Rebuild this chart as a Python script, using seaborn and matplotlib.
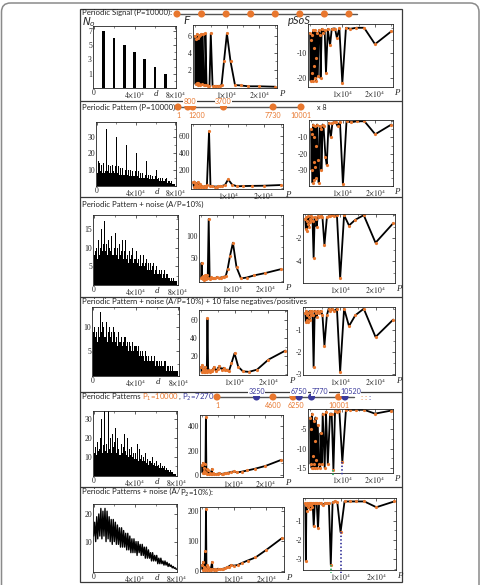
import numpy as np
import pandas as pd
import matplotlib
matplotlib.use("Agg")
import matplotlib.pyplot as plt
import seaborn as sns
from matplotlib.patches import FancyBboxPatch, Rectangle
from matplotlib.ticker import AutoMinorLocator

sns.set_theme(style="white")
plt.rcParams['font.family'] = ['Lato', 'DejaVu Sans']
plt.rcParams['mathtext.fontset'] = 'stix'
plt.rcParams['axes.unicode_minus'] = False

ORANGE = '#e8772e'
BLUE = '#3a3a9c'
GREEN = '#2fb36a'

# ---------------- data ----------------
# row 1 : periodic signal
sig_events = [1, 10001, 20001, 30001, 40001, 50001, 60001, 70001]
sig_d = [10000, 20000, 30000, 40000, 50000, 60000, 70000]
sig_N = [7, 6, 5, 4, 3, 2, 1]

# row 2 : periodic pattern timeline
pat_events = [1, 800, 1200, 3700, 7730, 10001]
pat_above = [800, 3700]
pat_repeat = "x 8"

# row 5 : two periodic patterns
P1 = 10000
P2 = 7270
p1_events = [1, 4600, 6250, 10001]
p2_events = [3250, 6750, 7770, 10520]

# histogram bins (distance d)
d_edges = np.arange(0, 80001, 1000)

hist2 = [8, 15, 14, 9, 13, 8, 9, 14, 8, 9,
         35, 9, 13, 8, 12, 8, 13, 9, 8, 12,
         30, 8, 12, 7, 11, 7, 11, 7, 7, 10,
         25, 7, 10, 6, 10, 6, 9, 6, 6, 9,
         20, 6, 9, 5, 8, 5, 8, 5, 5, 7,
         15, 5, 7, 4, 7, 4, 6, 4, 4, 6,
         10, 4, 5, 3, 5, 3, 5, 3, 3, 4,
         5, 2, 3, 2, 3, 2, 3, 1, 1, 1]
hist3 = [8, 9, 10, 7, 12, 8, 10, 15, 9, 11,
         17, 9, 11, 8, 12, 10, 9, 13, 8, 10,
         14, 8, 10, 7, 11, 8, 9, 12, 7, 9,
         12, 7, 8, 6, 9, 7, 8, 10, 6, 7,
         9, 6, 7, 5, 8, 5, 6, 8, 5, 6,
         7, 4, 6, 4, 6, 4, 5, 6, 3, 4,
         5, 3, 4, 3, 4, 2, 3, 4, 2, 3,
         3, 2, 2, 1, 2, 1, 2, 1, 1, 1]
hist4 = [9, 10, 8, 9, 7, 10, 8, 13, 9, 11,
         10, 8, 11, 7, 9, 10, 8, 9, 7, 10,
         9, 7, 8, 6, 9, 7, 8, 6, 7, 8,
         8, 6, 7, 5, 7, 6, 5, 7, 5, 6,
         6, 5, 6, 4, 5, 4, 5, 4, 3, 5,
         4, 3, 4, 3, 4, 3, 3, 4, 2, 3,
         3, 2, 3, 2, 3, 2, 2, 3, 1, 2,
         2, 1, 2, 1, 2, 1, 1, 1, 1, 1]
hist5 = [12, 15, 11, 18, 13, 14, 20, 30, 12, 16,
         36, 13, 17, 12, 36, 14, 20, 12, 22, 15,
         18, 25, 12, 20, 14, 11, 17, 12, 15, 22,
         13, 11, 20, 10, 14, 11, 15, 10, 12, 9,
         12, 9, 17, 8, 14, 9, 11, 8, 10, 8,
         12, 7, 9, 6, 8, 7, 10, 6, 7, 5,
         8, 5, 6, 4, 7, 4, 5, 4, 5, 3,
         4, 3, 3, 2, 3, 2, 2, 1, 1, 1]
line6_d = np.arange(0, 80001, 1000)
line6 = [12, 17, 10, 19, 11, 20, 12, 22, 11, 21,
         12, 22, 10, 21, 11, 19, 10, 18, 9, 18,
         10, 17, 9, 16, 9, 15, 8, 15, 8, 14,
         8, 13, 7, 13, 7, 12, 6, 11, 6, 11,
         6, 10, 5, 10, 6, 9, 5, 9, 5, 8,
         4, 8, 4, 7, 4, 6, 3, 6, 3, 5,
         3, 5, 2, 4, 2, 4, 2, 3, 1.5, 3,
         1.5, 2.5, 1, 2, 1, 1.5, 0.5, 1, 0.3, 0.5, 0]

# candidate periods P and scores
P_grid = [150, 300, 450, 600, 750, 900, 1050, 1200, 1350, 1500,
          1650, 1800, 2000, 2200, 2500, 2800, 3250, 3333, 3700, 4000,
          4600, 5000, 5556, 6250, 6750, 7270, 7770, 8333, 9091, 10000,
          11111, 12500, 14286, 16667, 20000, 25000]

F1 = [6.0, 0.3, 5.6, 0.5, 6.2, 0.2, 5.8, 0.4, 6.0, 0.3,
      6.1, 0.2, 6.2, 0.3, 6.2, 0.2, 0.2, 6.3, 0.2, 0.1,
      0.1, 6.3, 0.1, 0.1, 0.1, 0.1, 0.1, 0.2, 3.0, 6.3,
      3.0, 0.2, 0.15, 0.05, 0.05, 0.0]
S1 = [-2, -21, -5, -18, -3, -21, -1, -15, -8, -20,
      -1, -12, -21, -2, -19, -1, -3, -20, -0.5, -2,
      -1, -18, -0.5, -7, -0.5, -0.3, -0.3, -4, -0.2, -22,
      0, -0.4, 0, 0, -6.5, -1.4]
F2 = [60, 10, 70, 20, 55, 5, 40, 15, 60, 10,
      30, 8, 45, 10, 20, 8, 10, 15, 12, 30,
      650, 20, 15, 12, 12, 15, 15, 20, 30, 95,
      35, 15, 18, 20, 22, 30]
S2 = [-5, -30, -8, -38, -2, -25, -10, -36, -3, -28,
      -15, -35, -2, -24, -38, -3, -5, -30, -2, -3,
      -22, -27, -1, -10, -1, -0.5, -0.5, -3, -0.5, -39,
      0, -0.6, 0, 0, -8, -2]
F3 = [5, 40, 8, 3, 10, 4, 6, 2, 9, 12,
      5, 3, 12, 5, 138, 4, 5, 8, 5, 6,
      5, 8, 6, 7, 8, 9, 10, 25, 55, 85,
      30, 5, 7, 12, 17, 26]
S3 = [-0.3, -1.2, -0.2, -1.4, -0.5, -0.8, -0.1, -1.0, -0.3, -0.6,
      -0.1, -0.4, -0.2, -0.5, -3.7, -0.2, -0.3, -1.0, -0.1, -0.2,
      -0.1, -0.2, -2.6, -0.2, -0.1, -0.05, 0, -0.1, 0, -5.5,
      0, -0.9, -0.4, 0, -2.4, -0.7]
F4 = [8, 2, 10, 3, 6, 2, 5, 2, 8, 3,
      4, 2, 62, 3, 5, 2, 3, 4, 6, 8,
      3, 6, 9, 5, 7, 4, 5, 3, 12, 23,
      8, 3, 2.5, 5, 16, 26]
S4 = [-0.2, -0.6, -0.1, -0.5, -0.3, -0.6, -0.2, -0.4, -0.1, -0.5,
      -0.2, -0.3, -0.1, -0.3, -2.7, -0.1, -0.2, -0.4, -0.1, -0.2,
      -0.1, -0.3, -1.7, -0.3, 0, -0.1, 0, -0.1, 0, -2.9,
      0, -0.8, -0.3, 0, -1.3, -0.5]
F5 = [80, 20, 100, 30, 60, 15, 90, 25, 470, 20,
      50, 10, 40, 10, 20, 8, 50, 10, 15, 8,
      10, 12, 15, 10, 12, 15, 18, 20, 25, 30,
      22, 28, 38, 52, 75, 125]
S5 = [-2, -14, -5, -15, -1, -12, -15, -3, -14, -8,
      -15, -2, -13, -15, -4, -14, -15, -6, -14, -1,
      -15, -0.5, -14, -1, -1, -15.5, -0.3, -0.5, -0.2, -13.5,
      0, 0, 0, 0, -1.0, -0.2]
F6 = [20, 5, 30, 8, 15, 5, 65, 10, 205, 8,
      20, 5, 12, 4, 8, 5, 30, 8, 5, 6,
      5, 8, 6, 7, 8, 10, 12, 15, 20, 18,
      20, 27, 35, 45, 70, 110]
S6 = [-0.1, -3.1, -0.2, -0.5, -0.1, -0.3, -0.1, -0.2, -0.4, -0.1,
      -0.2, -0.1, -0.3, -0.1, -1.3, -0.1, -0.1, -0.1, -1.4, -0.1,
      -0.1, -0.2, -0.1, -0.1, -0.1, -3.3, -0.05, 0, -0.05, -1.6,
      0, 0, 0, 0, -0.3, 0]

headers = ["Periodic Signal (P=10000):",
           "Periodic Pattern (P=10000):",
           "Periodic Pattern + noise (A/P=10%)",
           "Periodic Pattern + noise (A/P=10%) + 10 false negatives/positives",
           None,
           None]

# ---------------- layout ----------------
W, H = 481, 585
fig = plt.figure(figsize=(W / 100, H / 100), dpi=100)


def px_axes(x0, y0, x1, y1):
    return fig.add_axes([x0 / W, 1 - y1 / H, (x1 - x0) / W, (y1 - y0) / H])


overlay = fig.add_axes([0, 0, 1, 1])
overlay.set_xlim(0, W)
overlay.set_ylim(H, 0)
overlay.axis('off')
overlay.add_patch(FancyBboxPatch((1.5, 3), 477.5, 620, boxstyle='round,pad=0,rounding_size=9',
                                 fc='none', ec='#8a8a8a', lw=1.1, clip_on=False))
overlay.add_patch(Rectangle((80, 9), 322, 573, fc='none', ec='#3a3a3a', lw=0.9))
overlay.hlines([101, 197, 297, 392, 487], 80, 402, color='#3a3a3a', lw=0.9)

boxes = [
    dict(h=(93, 26, 176, 88), f=(193, 25, 277, 88), s=(308, 24, 393, 87)),
    dict(h=(96, 122, 176, 186), f=(191, 124, 283, 189), s=(309, 120, 393, 186)),
    dict(h=(93, 215, 178, 285), f=(199, 215, 283, 282), s=(303, 214, 395, 283)),
    dict(h=(92, 307, 179, 376), f=(199, 310, 287, 375), s=(303, 307, 395, 375)),
    dict(h=(93, 411, 177, 476), f=(200, 415, 283, 477), s=(308, 409, 393, 473)),
    dict(h=(93, 504, 177, 572), f=(200, 507, 284, 572), s=(303, 498, 396, 570)),
]
hist_ylim = [(-1.0, 7.7), (0, 39), (0, 18.7), (0, 14), (0, 34), (-1, 23.6)]
hist_yt = [[1, 3, 5, 7], [10, 20, 30], [5, 10, 15], [5, 10], [10, 20, 30], [10, 20]]
F_vals = [F1, F2, F3, F4, F5, F6]
S_vals = [S1, S2, S3, S4, S5, S6]
F_ylim = [(-0.15, 7.3), (-16, 735), (-3, 147), (-1, 71), (-15, 490), (-3, 212)]
F_yt = [[2, 4, 6], [200, 400, 600], [50, 100], [20, 40, 60], [0, 200, 400], [0, 100, 200]]
S_ylim = [(-23.5, 1.5), (-40, 0.8), (-5.9, 0.1), (-3.05, 0.08), (-16.3, 0.2), (-3.57, 0.18)]
S_yt = [[-20, -10], [-30, -20, -10], [-4, -2], [-3, -2, -1], [-15, -10, -5], [-3, -2, -1]]
header_y = [12, 107, 204, 301, 397, 492]

TFS = 5.5  # tick font size
SERIF = 'Liberation Serif'


def style_axes(ax):
    for sp in ax.spines.values():
        sp.set_linewidth(0.6)
        sp.set_color('#222222')
    ax.tick_params(direction='in', length=2.2, width=0.5, top=True, right=True,
                   labelsize=TFS, pad=0.8, colors='#222222')
    ax.tick_params(which='minor', direction='in', length=1.2, width=0.4, top=True, right=True)
    ax.xaxis.set_minor_locator(AutoMinorLocator(2))
    ax.yaxis.set_minor_locator(AutoMinorLocator(2))
    ax.set_xlabel('')
    ax.set_ylabel('')
    ax.grid(False)
    for lab in ax.get_xticklabels() + ax.get_yticklabels():
        lab.set_fontfamily(SERIF)


def axis_letter(ax, s, x=1.0, dx=1.5):
    ax.annotate(s, xy=(x, 0), xycoords='axes fraction', xytext=(dx, -4.6),
                textcoords='offset points', ha='left', va='center',
                fontsize=6.4, style='italic', fontfamily=SERIF)


hist_data = [None, hist2, hist3, hist4, hist5, None]
d_centers = d_edges[:-1] + 500

for r in range(6):
    b = boxes[r]
    # ---- histogram of distances ----
    ax = px_axes(*b['h'])
    if r == 0:
        df = pd.DataFrame({'d': sig_d, 'N': sig_N})
        sns.barplot(data=df, x='d', y='N', native_scale=True, color='black',
                    saturation=1, width=0.28, ax=ax, linewidth=0)
        lo = hist_ylim[r][0]
        for p in ax.patches:   # fill bars down to the bottom of the frame
            top = p.get_y() + p.get_height()
            p.set_y(lo)
            p.set_height(top - lo)
    elif r == 5:
        df = pd.DataFrame({'d': line6_d, 'N': line6})
        sns.lineplot(data=df, x='d', y='N', color='black', lw=1.0, ax=ax)
    else:
        df = pd.DataFrame({'d': d_centers, 'N': hist_data[r]})
        sns.histplot(data=df, x='d', weights='N', binwidth=1000, binrange=(0, 80000),
                     color='black', alpha=1, edgecolor='white', linewidth=0.0, ax=ax)
    ax.set_xlim(-600, 80600)
    ax.set_ylim(*hist_ylim[r])
    ax.set_xticks([0, 40000, 80000])
    ax.set_xticklabels(['0', r'$4{\times}10^4$', r'$8{\times}10^4$'])
    ax.set_yticks(hist_yt[r])
    ax.set_yticklabels([str(v) for v in hist_yt[r]])
    style_axes(ax)
    axis_letter(ax, 'd', x=0.73, dx=0)

    # ---- F(P) ----
    ax = px_axes(*b['f'])
    df = pd.DataFrame({'P': P_grid, 'F': F_vals[r]})
    sns.lineplot(data=df, x='P', y='F', color='black', lw=1.3, ax=ax, marker='o',
                 markersize=2.3, markerfacecolor=ORANGE, markeredgecolor='none')
    ax.set_xlim(-500, 25500)
    ax.set_ylim(*F_ylim[r])
    ax.set_xticks([10000, 20000])
    ax.set_xticklabels([r'$1{\times}10^4$', r'$2{\times}10^4$'])
    ax.set_yticks(F_yt[r])
    ax.set_yticklabels([str(v) for v in F_yt[r]])
    style_axes(ax)
    axis_letter(ax, 'P')

    # ---- pSoS(P) ----
    ax = px_axes(*b['s'])
    df = pd.DataFrame({'P': P_grid, 'S': S_vals[r]})
    sns.lineplot(data=df, x='P', y='S', color='black', lw=1.3, ax=ax, marker='o',
                 markersize=2.3, markerfacecolor=ORANGE, markeredgecolor='none')
    if r >= 4:
        lo = S_ylim[r][0]
        for per, col in [(P2, GREEN), (P1, BLUE)]:
            v = S_vals[r][P_grid.index(per)]
            ax.plot([per, per], [v, lo - 0.04 * (S_ylim[r][1] - lo)], color=col, lw=1.3,
                    ls=(0, (0.8, 1.2)), clip_on=False, zorder=5)
    ax.set_xlim(-500, 25500)
    ax.set_ylim(*S_ylim[r])
    ax.set_xticks([10000, 20000])
    ax.set_xticklabels([r'$1{\times}10^4$', r'$2{\times}10^4$'])
    ax.set_yticks(S_yt[r])
    ax.set_yticklabels([str(v) for v in S_yt[r]])
    style_axes(ax)
    axis_letter(ax, 'P', dx=0.8)

# axis names (top row)
overlay.text(82, 22, r'$N_o$', fontsize=7.5, math_fontfamily='dejavusans', va='center', ha='left')
overlay.text(183, 21, 'F', fontsize=8.5, style='italic', va='center', ha='left')
overlay.text(288, 21, 'pSoS', fontsize=8, style='italic', va='center', ha='left')

# headers
HFS = 5.6
for r, t in enumerate(headers):
    if t is not None:
        overlay.text(82, header_y[r], t, fontsize=HFS, va='center', ha='left', color='#222222')

renderer = fig.canvas.get_renderer()


def parts_text(x, y, parts):
    for s, c in parts:
        t = overlay.text(x, y, s, fontsize=HFS, va='baseline', ha='left', color=c,
                         math_fontfamily='dejavusans')
        bb = t.get_window_extent(renderer=renderer)
        x += bb.width


parts_text(82, header_y[4] + 2.2, [("Periodic Patterns\u2009", '#222222'),
                                   (r"P$_1$=10000", ORANGE), (",\u2009", '#222222'),
                                   (r"P$_2$=7270", BLUE), (":", '#222222')])
parts_text(82, header_y[5] + 2.2, [("Periodic Patterns + noise (A/", '#222222'),
                                   (r"P$_2$=10%):", '#222222')])

# ---------------- timelines ----------------
LFS = 5.1
label_shift = {1200: 3, 800: 1.5, 6250: 2, 7770: 6, 10520: 4}   # points, to avoid overlaps


def timeline(box, lo, hi, line_ext):
    ax = px_axes(*box)
    ax.axis('off')
    ax.set_xlim(lo, hi)
    ax.set_ylim(-1, 1)
    ax.plot(line_ext, [0, 0], color='#555555', lw=1.0, clip_on=False, zorder=1)
    return ax


def dots(ax, events, color):
    sns.scatterplot(x=events, y=[0] * len(events), color=color, s=26, edgecolor='none',
                    ax=ax, clip_on=False, zorder=3, legend=False)


def labels(ax, events, color, above):
    for e in events:
        dx = label_shift.get(e, 0)
        if above:
            ax.annotate(str(e), (e, 0), xytext=(dx, 3.7), textcoords='offset points', ha='center',
                        va='center', fontsize=LFS, color=color,
                        bbox=dict(fc='white', ec='none', pad=0.3), zorder=6)
        else:
            ax.annotate(str(e), (e, 0), xytext=(dx, -6.2), textcoords='offset points', ha='center',
                        va='center', fontsize=LFS, color=color)


span1 = sig_events[-1] - sig_events[0]
t1 = timeline((177, 9, 349, 19), sig_events[0], sig_events[-1],
              [sig_events[0] - 0.012 * span1, sig_events[-1] + 0.045 * span1])
dots(t1, sig_events, ORANGE)

t2 = timeline((178, 102, 301, 112), pat_events[0], pat_events[-1],
              [pat_events[0], pat_events[-1]])
dots(t2, pat_events, ORANGE)
labels(t2, [e for e in pat_events if e not in pat_above], ORANGE, False)
labels(t2, pat_above, ORANGE, True)
overlay.text(317, 107, pat_repeat, fontsize=LFS, va='center', ha='left', color='#222222')

t5 = timeline((217, 392, 345, 402), p1_events[0], p2_events[-1],
              [p1_events[0], p2_events[-1] * 1.07])
dots(t5, p1_events, ORANGE)
dots(t5, p2_events, BLUE)
labels(t5, p1_events, ORANGE, False)
labels(t5, p2_events, BLUE, True)
overlay.text(361, 397, ':', fontsize=6, va='center', ha='left', color=ORANGE, fontweight='bold')
overlay.text(365, 397, ':', fontsize=6, va='center', ha='left', color=ORANGE, fontweight='bold')
overlay.text(369, 397, ':', fontsize=6, va='center', ha='left', color=BLUE, fontweight='bold')

fig.savefig('out.png', dpi=100)
